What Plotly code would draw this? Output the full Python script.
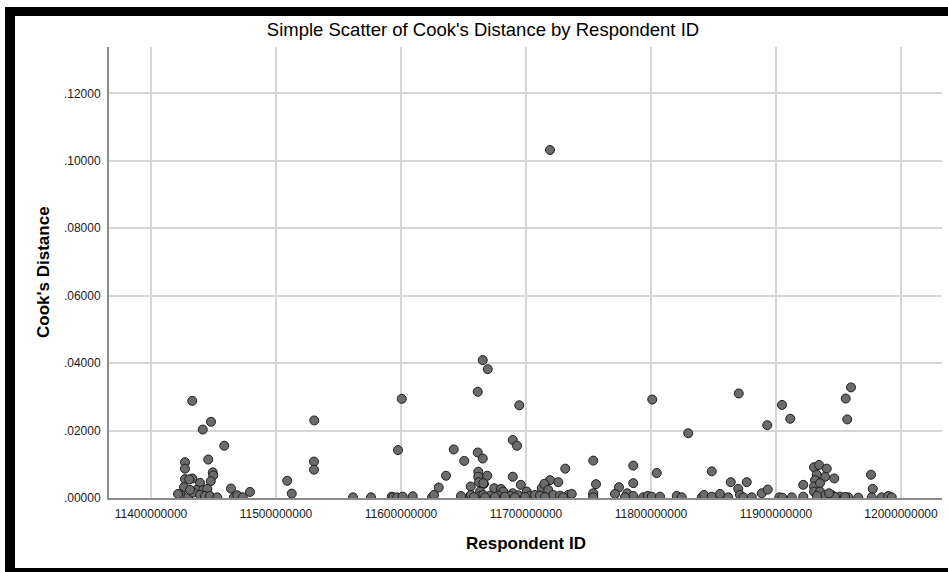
import plotly.graph_objects as go

# Respondent IDs and their Cook's distance values
respondent_id = [
    11433000000, 11448000000, 11441400000, 11458600000, 11427200000, 11427200000, 11445800000,
    11449400000, 11449800000, 11427200000, 11433000000, 11430600000, 11439200000, 11447800000,
    11426400000, 11436600000, 11441800000, 11445000000, 11464000000, 11479200000, 11423200000,
    11424600000, 11429800000, 11433800000, 11439200000, 11443200000, 11447200000, 11453000000,
    11466400000, 11469000000, 11473400000, 11431200000, 11421600000,
    11509000000, 11512600000, 11530600000, 11530400000, 11530400000,
    11561600000, 11576000000, 11592600000, 11593800000, 11597000000, 11601400000, 11609400000,
    11624800000, 11626400000, 11600600000, 11597600000, 11630200000, 11636000000, 11642200000,
    11648000000, 11650600000, 11655800000, 11655400000,
    11661400000, 11661400000, 11665400000, 11661800000, 11661800000, 11662400000, 11666400000,
    11669000000, 11663200000, 11665400000, 11669400000, 11694600000, 11689400000, 11692800000,
    11689400000, 11731400000, 11753800000, 11756000000, 11665800000, 11695800000, 11674600000,
    11680000000, 11681800000, 11689400000, 11700600000, 11712600000, 11719200000, 11725800000,
    11714600000, 11717800000, 11656000000, 11663200000, 11665800000, 11671200000, 11677800000,
    11687200000, 11693800000, 11703200000, 11707200000, 11711200000, 11721800000, 11727200000,
    11733800000, 11736600000, 11753800000, 11658400000, 11667200000, 11675200000, 11683200000,
    11691200000, 11699200000, 11715200000, 11729600000, 11719200000,
    11753800000, 11753800000, 11774400000, 11771200000, 11781000000, 11785800000, 11785800000,
    11785800000, 11779200000, 11793800000, 11797400000, 11800600000, 11804600000, 11807200000,
    11820600000, 11824600000, 11829800000, 11840600000, 11842400000, 11848600000, 11848600000,
    11855200000, 11861800000, 11863800000, 11869800000, 11871200000, 11876600000, 11874000000,
    11880600000, 11888600000, 11893400000, 11893000000, 11902600000, 11801000000, 11870200000,
    11904800000, 11911400000, 11955800000, 11960000000, 11957000000, 11976000000, 11977400000,
    11921800000,
    11930400000, 11934400000, 11940600000, 11946600000, 11939200000, 11932600000, 11931200000,
    11930400000, 11935200000, 11930400000, 11935200000, 11944600000, 11951200000, 11957800000,
    11965800000, 11976600000, 11984600000, 11989800000, 11992600000, 11905000000, 11912600000,
    11921800000, 11939200000, 11947200000, 11955200000, 11932800000, 11942400000,
]

cooks_distance = [
    .0288, .0226, .0203, .0155, .0106, .0087, .0114,
    .0076, .0067, .0056, .0058, .0055, .0045, .0050,
    .0032, .0024, .0024, .0027, .0028, .0018, .0011,
    .0006, .0004, .0016, .0009, .0006, .0006, .0002,
    .0002, .0008, .0002, .0024, .0012,
    .0051, .0013, .0230, .0108, .0084,
    .0002, .0002, .0004, .0002, .0002, .0004, .0005,
    .0002, .0009, .0294, .0142, .0031, .0066, .0144,
    .0006, .0110, .0034, .0006,
    .0315, .0135, .0117, .0078, .0063, .0047, .0042,
    .0066, .0019, .0409, .0382, .0275, .0172, .0155,
    .0063, .0087, .0111, .0041, .0044, .0039, .0029,
    .0027, .0019, .0014, .0019, .0029, .0053, .0047,
    .0042, .0024, .0009, .0006, .0009, .0007, .0007,
    .0006, .0008, .0007, .0009, .0007, .0009, .0007,
    .0009, .0012, .0009, .0003, .0002, .0003, .0004,
    .0002, .0003, .0003, .0002, .1032,
    .0014, .0002, .0032, .0012, .0014, .0096, .0044,
    .0006, .0002, .0002, .0006, .0004, .0074, .0004,
    .0006, .0002, .0192, .0002, .0009, .0079, .0004,
    .0012, .0002, .0047, .0027, .0009, .0047, .0002,
    .0002, .0014, .0025, .0216, .0002, .0292, .0310,
    .0276, .0235, .0295, .0328, .0233, .0069, .0027,
    .0039,
    .0091, .0098, .0087, .0058, .0063, .0069, .0053,
    .0034, .0044, .0019, .0019, .0009, .0004, .0002,
    .0001, .0002, .0002, .0006, .0002, .0001, .0002,
    .0004, .0008, .0003, .0003, .0006, .0014,
]

x_ticks = [11400000000, 11500000000, 11600000000, 11700000000,
           11800000000, 11900000000, 12000000000]
x_tick_labels = ["11400000000", "11500000000", "11600000000", "11700000000",
                 "11800000000", "11900000000", "12000000000"]
y_ticks = [0, 0.02, 0.04, 0.06, 0.08, 0.10, 0.12]
y_tick_labels = [".00000", ".02000", ".04000", ".06000", ".08000", ".10000", ".12000"]

W, H = 948, 572
L, R, T, B = 109, 6, 47, 74
PW, PH = W - L - R, H - T - B


def px(x):
    return (x - L) / PW


def py(y):
    return (H - B - y) / PH


fig = go.Figure(
    go.Scatter(
        x=respondent_id,
        y=cooks_distance,
        mode="markers",
        marker=dict(size=9, color="#6b6b6b", line=dict(color="#1e1e1e", width=1)),
        hoverinfo="x+y",
    )
)

font_family = "Liberation Sans, Arial, sans-serif"

fig.update_layout(
    width=W,
    height=H,
    margin=dict(l=L, r=R, t=T, b=B),
    paper_bgcolor="white",
    plot_bgcolor="white",
    showlegend=False,
    font=dict(family=font_family, color="#000000"),
    title=dict(
        text="Simple Scatter of Cook's Distance by Respondent ID",
        x=483 / W, xanchor="center",
        y=1 - 30 / H, yanchor="middle",
        font=dict(size=18.5, family=font_family, color="#000000"),
    ),
    xaxis=dict(
        range=[11366400000, 12032800000],
        tickvals=x_ticks,
        ticktext=x_tick_labels,
        tickfont=dict(size=12, color="#1a1a1a"),
        showgrid=True, gridcolor="#d6d6d6", gridwidth=2,
        showline=True, linecolor="#8c8c8c", linewidth=2,
        zeroline=False, ticks="",
        ticklabelstandoff=4,
    ),
    yaxis=dict(
        range=[0, 0.13373],
        tickvals=y_ticks,
        ticktext=y_tick_labels,
        tickfont=dict(size=12, color="#1a1a1a"),
        showgrid=True, gridcolor="#d6d6d6", gridwidth=2,
        showline=True, linecolor="#8c8c8c", linewidth=2,
        zeroline=False, ticks="",
        ticklabelstandoff=4,
    ),
    annotations=[
        dict(text="<b>Cook's Distance</b>", textangle=-90,
             x=px(43.5), y=py(272.5), xref="paper", yref="paper",
             xanchor="center", yanchor="middle", showarrow=False,
             font=dict(size=17, family=font_family, color="#000000")),
        dict(text="<b>Respondent ID</b>",
             x=px(526), y=py(543), xref="paper", yref="paper",
             xanchor="center", yanchor="middle", showarrow=False,
             font=dict(size=17, family=font_family, color="#000000")),
    ],
    shapes=[
        # black frame: top, left and bottom bars
        dict(type="rect", xref="paper", yref="paper", layer="above",
             x0=px(5), x1=px(W + 2), y0=py(7), y1=py(16),
             fillcolor="black", line=dict(width=0)),
        dict(type="rect", xref="paper", yref="paper", layer="above",
             x0=px(5), x1=px(15), y0=py(7), y1=py(H + 2),
             fillcolor="black", line=dict(width=0)),
        dict(type="rect", xref="paper", yref="paper", layer="above",
             x0=px(5), x1=px(W + 2), y0=py(568), y1=py(H + 2),
             fillcolor="black", line=dict(width=0)),
    ],
)

fig.write_html("out.html")
